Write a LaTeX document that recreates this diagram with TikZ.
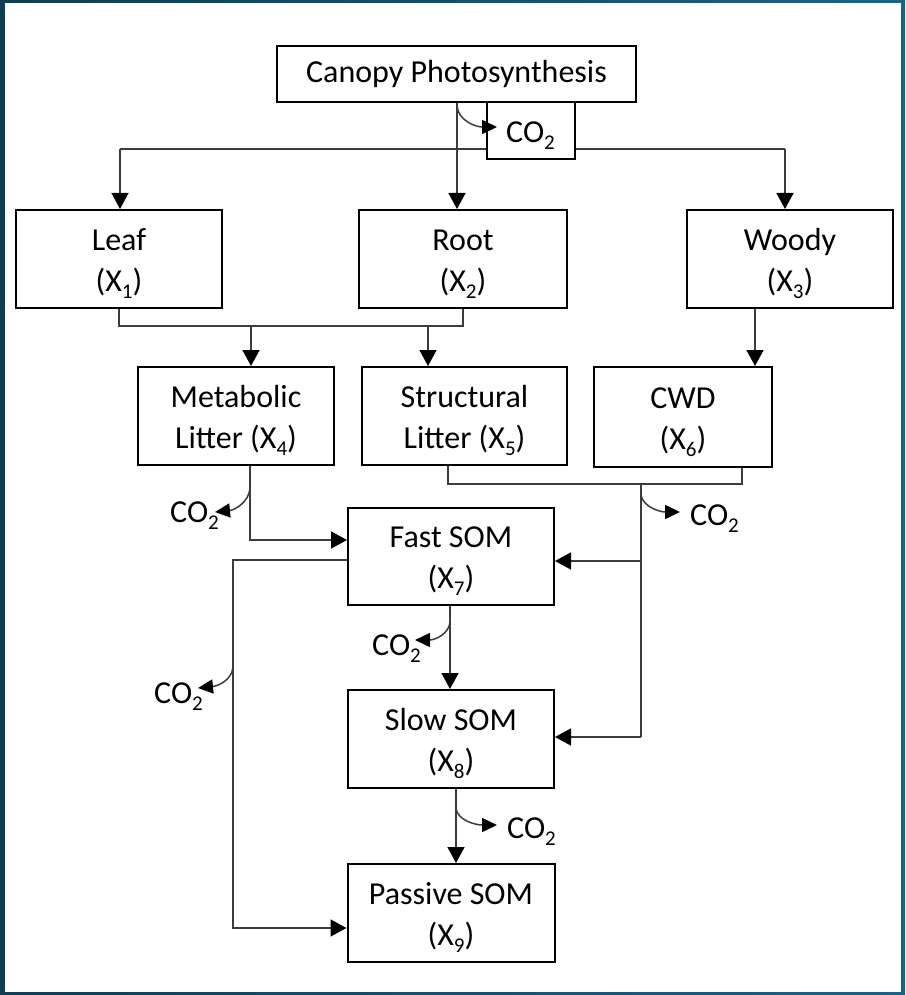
\documentclass[tikz,border=0pt]{standalone}
\usepackage{fontspec}
\setmainfont{Carlito}
\usetikzlibrary{arrows.meta}
\definecolor{frameL}{HTML}{0F3D53}
\definecolor{frameR}{HTML}{1A6384}
\definecolor{linec}{HTML}{3C3C3C}
\newcommand\subx[1]{\raisebox{-7pt}{\fontsize{21}{21}\selectfont #1}}
\newcommand\tp{\rule{0pt}{31pt}}
\begin{document}
\begin{tikzpicture}[x=1pt,y=-1pt,
 box/.style={draw=black,line width=2pt,fill=white,align=center,font=\fontsize{32}{41}\selectfont,inner sep=0pt},
 conn/.style={draw=linec,line width=1.5pt},
 arr/.style={conn,-{Triangle[length=16pt,width=17pt,color=black]}},
 carr/.style={conn,-{Triangle[length=15pt,width=14pt,color=black]}},
 lbl/.style={font=\fontsize{32}{38}\selectfont,inner sep=0pt,anchor=base west}]
\useasboundingbox (0,0) rectangle (905,995);
\fill[left color=frameL,right color=frameR] (0,0) rectangle (905,995);
\fill[white] (5,3) rectangle (901,992);

% boxes
\node[box,minimum width=359pt,minimum height=56pt] (canopy) at (456.5,74) {Canopy Photosynthesis};
\node[box,minimum width=206pt,minimum height=98pt] (leaf) at (119,259) {\tp Leaf\\(X\subx{1})};
\node[box,minimum width=208pt,minimum height=98pt] (root) at (463,259) {\tp Root\\(X\subx{2})};
\node[box,minimum width=206pt,minimum height=98pt] (woody) at (790,259) {\tp Woody\\(X\subx{3})};
\node[box,minimum width=196pt,minimum height=98pt] (metab) at (236,416) {\tp Metabolic\\Litter (X\subx{4})};
\node[box,minimum width=205pt,minimum height=98pt] (struct) at (464.5,416) {\tp Structural\\Litter (X\subx{5})};
\node[box,minimum width=178pt,minimum height=100pt] (cwd) at (683,417) {\tp CWD\\(X\subx{6})};
\node[box,minimum width=206pt,minimum height=97pt] (fast) at (451,556) {\tp Fast SOM\\(X\subx{7})};
\node[box,minimum width=206pt,minimum height=98pt] (slow) at (451,739) {\tp Slow SOM\\(X\subx{8})};
\node[box,minimum width=207pt,minimum height=98pt] (passive) at (451,913) {\tp Passive SOM\\(X\subx{9})};

% canopy distribution
\coordinate (trunk) at (457,149);
\draw[conn] (120,149) -- (785,149);
\node[box,minimum width=88pt,minimum height=57pt] (co2box) at (531,130.5) {};
\node[lbl] (c0) at (506,143) {CO\subx{2}};
\draw[arr] (canopy.south -| trunk) -- (root.north -| trunk);
\draw[arr] (120,149) -- (leaf.north -| 120,0);
\draw[arr] (785,149) -- (woody.north -| 785,0);
\coordinate (t0) at (497,127);
\draw[carr] (457,106) .. controls (458,120) and (475,127) .. (t0);

% leaf/root to litter
\draw[conn] (leaf.south) -- (leaf.south |- 0,326) -- (root.south |- 0,326) -- (root.south);
\draw[arr] (251,326) -- (metab.north -| 251,0);
\draw[arr] (428,326) -- (struct.north -| 428,0);
\draw[arr] (woody.south -| 755,0) -- (cwd.north -| 755,0);

% metabolic to fast
\draw[arr] (metab.south -| 250,0) -- (250,540) -- (fast.west |- 0,540);
\coordinate (t1) at (215,512);
\draw[carr] (250,488) .. controls (249,502) and (235,510) .. (t1);
\node[lbl] (c1) at (170,522) {CO\subx{2}};

% structural + cwd
\draw[conn] (struct.south -| 448,0) -- (448,484) -- (742,484) -- (cwd.south -| 742,0);
\draw[conn] (641,484) -- (641,737);
\draw[arr] (641,561) -- (fast.east |- 0,561);
\draw[arr] (641,737) -- (slow.east |- 0,737);
\coordinate (t2) at (680,512);
\draw[carr] (641,495) .. controls (643,507) and (660,512) .. (t2);
\node[lbl] (c2) at (690,525) {CO\subx{2}};

% fast to passive (left loop)
\draw[arr] (fast.west |- 0,560) -- (233,560) -- (233,928) -- (passive.west |- 0,928);
\coordinate (t3) at (198,688);
\draw[carr] (233,667) .. controls (232,680) and (218,686) .. (t3);
\node[lbl] (c3) at (154,703) {CO\subx{2}};

% fast to slow
\draw[arr] (fast.south -| 450,0) -- (slow.north -| 450,0);
\coordinate (t4) at (415,640);
\draw[carr] (450,622) .. controls (449,634) and (435,640) .. (t4);
\node[lbl] (c4) at (372,655) {CO\subx{2}};

% slow to passive
\draw[arr] (slow.south -| 456,0) -- (passive.north -| 456,0);
\coordinate (t5) at (497,825);
\draw[carr] (456,808) .. controls (457,820) and (475,825) .. (t5);
\node[lbl] (c5) at (507,838) {CO\subx{2}};
\end{tikzpicture}
\end{document}
